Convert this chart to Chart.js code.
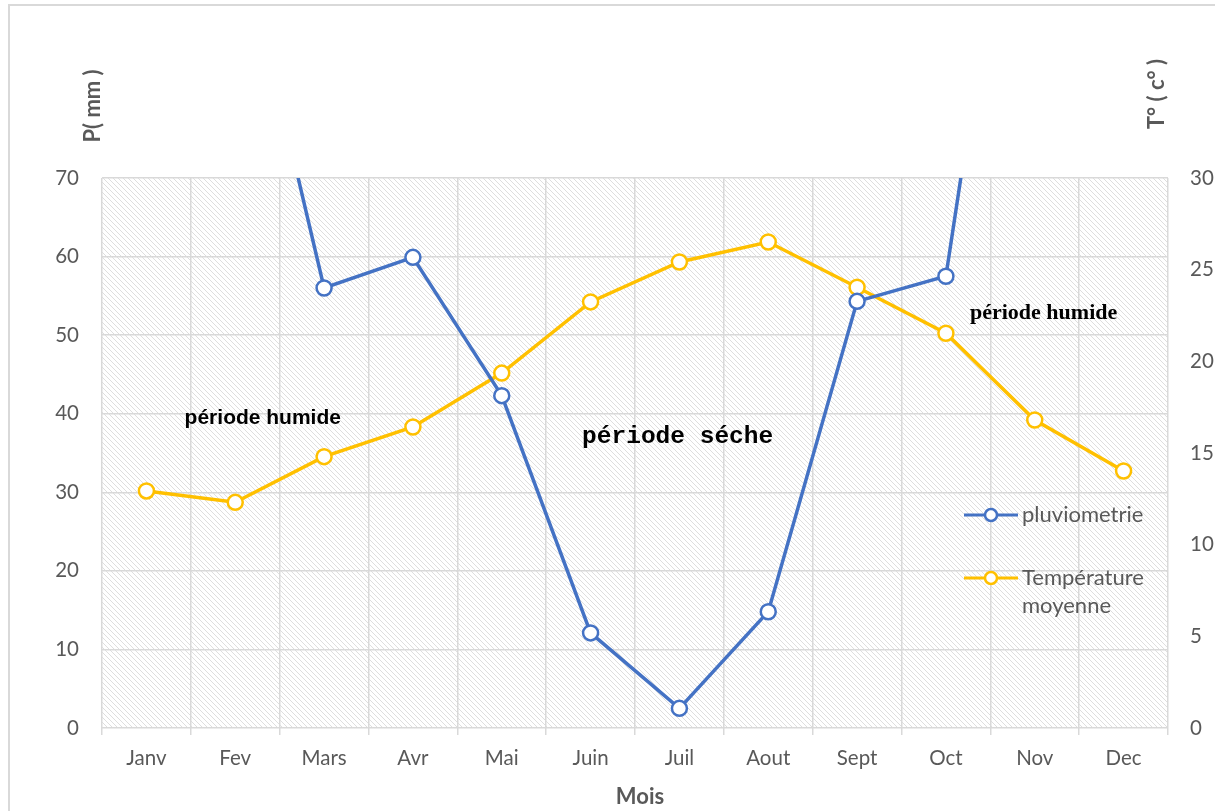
<!DOCTYPE html>
<html>
<head>
<meta charset="utf-8">
<script src="https://cdn.jsdelivr.net/npm/chart.js@4.4.1/dist/chart.umd.min.js"></script>
<style>
  html, body { margin: 0; padding: 0; background: #ffffff; }
  #wrap { width: 1215px; height: 811px; position: relative; }
</style>
</head>
<body>
<div id="wrap"><canvas id="c" width="1215" height="811"></canvas></div>
<script>
// Monthly climate data
const months = ['Janv', 'Fev', 'Mars', 'Avr', 'Mai', 'Juin', 'Juil', 'Aout', 'Sept', 'Oct', 'Nov', 'Dec'];
const pluviometrie = [110, 104, 56.0, 59.9, 42.3, 12.1, 2.5, 14.8, 54.3, 57.5, 132, 120];
const temperature = [12.93, 12.31, 14.8, 16.42, 19.36, 23.24, 25.42, 26.51, 24.04, 21.53, 16.8, 14.02];
const leftTicks = [0, 10, 20, 30, 40, 50, 60, 70];
const rightTicks = [0, 5, 10, 15, 20, 25, 30];

const BLUE = '#4472C4';
const ORANGE = '#FFC000';
const TEXT = '#595959';
const GRID = '#d9d9d9';
const FONT = 'Lato, "Open Sans", sans-serif';

// Diagonal hatch fill for the plot area
function makeHatch() {
  const s = 5;
  const p = document.createElement('canvas');
  p.width = s; p.height = s;
  const g = p.getContext('2d');
  g.fillStyle = '#ffffff';
  g.fillRect(0, 0, s, s);
  g.strokeStyle = '#dedede';
  g.lineWidth = 1;
  g.beginPath();
  g.moveTo(-1, -1); g.lineTo(s + 1, s + 1);
  g.moveTo(-1, s - 1); g.lineTo(1, s + 1);
  g.moveTo(s - 1, -1); g.lineTo(s + 1, 1);
  g.stroke();
  return p;
}

const backdrop = {
  id: 'backdrop',
  beforeDraw(chart) {
    const { ctx, chartArea: a } = chart;
    ctx.save();
    ctx.fillStyle = '#ffffff';
    ctx.fillRect(0, 0, chart.width, chart.height);
    ctx.strokeStyle = GRID;
    ctx.lineWidth = 2;
    ctx.strokeRect(9, 5, 1400, 1400);
    ctx.fillStyle = ctx.createPattern(makeHatch(), 'repeat');
    ctx.fillRect(a.left, a.top, a.right - a.left, a.bottom - a.top);
    ctx.restore();
  }
};

// Axis titles, period labels and the legend drawn on top
const overlay = {
  id: 'overlay',
  afterDraw(chart) {
    const { ctx } = chart;
    const x = chart.scales.x, y = chart.scales.y;
    ctx.save();
    ctx.fillStyle = TEXT;
    ctx.font = 'bold 22px ' + FONT;
    ctx.textAlign = 'center';
    ctx.textBaseline = 'middle';
    ctx.save(); ctx.translate(93, 106); ctx.rotate(-Math.PI / 2); ctx.fillText('P( mm )', 0, 0); ctx.restore();
    ctx.save(); ctx.translate(1157, 94); ctx.rotate(-Math.PI / 2); ctx.fillText('T° ( c° )', 0, 0); ctx.restore();
    ctx.fillText('Mois', 640, 797);

    ctx.fillStyle = '#000000';
    ctx.font = 'bold 21px "Liberation Sans", Arial, sans-serif';
    ctx.fillText('période humide', x.getPixelForValue(1.31), y.getPixelForValue(39.4));
    ctx.font = 'bold 24.5px "Liberation Mono", "Courier New", monospace';
    ctx.fillText('période séche', x.getPixelForValue(5.98), y.getPixelForValue(37.0));
    ctx.font = 'bold 22px "Liberation Serif", "Times New Roman", serif';
    ctx.fillText('période humide', x.getPixelForValue(10.1), y.getPixelForValue(52.8));

    // legend
    const items = [
      { color: BLUE, lines: ['pluviometrie'], y: 515 },
      { color: ORANGE, lines: ['Température', 'moyenne'], y: 578 }
    ];
    ctx.font = '22px ' + FONT;
    ctx.textAlign = 'left';
    items.forEach(it => {
      ctx.strokeStyle = it.color;
      ctx.lineWidth = 3;
      ctx.beginPath(); ctx.moveTo(964, it.y); ctx.lineTo(1018, it.y); ctx.stroke();
      ctx.beginPath(); ctx.arc(991, it.y, 6, 0, Math.PI * 2);
      ctx.fillStyle = '#ffffff'; ctx.fill();
      ctx.lineWidth = 2.5; ctx.stroke();
      ctx.fillStyle = TEXT;
      it.lines.forEach((t, i) => ctx.fillText(t, 1022, it.y + i * 28));
    });
    ctx.restore();
  }
};

new Chart(document.getElementById('c'), {
  type: 'line',
  data: {
    labels: months,
    datasets: [
      {
        label: 'pluviometrie',
        data: pluviometrie,
        yAxisID: 'y',
        borderColor: BLUE,
        borderWidth: 3.5,
        pointRadius: 7.5,
        pointBorderWidth: 2.5,
        pointBackgroundColor: '#ffffff',
        pointBorderColor: BLUE,
        tension: 0
      },
      {
        label: 'Température moyenne',
        data: temperature,
        yAxisID: 'y1',
        borderColor: ORANGE,
        borderWidth: 3.5,
        pointRadius: 7.5,
        pointBorderWidth: 2.5,
        pointBackgroundColor: '#ffffff',
        pointBorderColor: ORANGE,
        tension: 0
      }
    ]
  },
  options: {
    responsive: false,
    animation: false,
    devicePixelRatio: 1,
    layout: { padding: { top: 178, left: 0, right: 0, bottom: 0 } },
    plugins: { legend: { display: false }, tooltip: { enabled: false } },
    scales: {
      x: {
        offset: true,
        grid: { offset: true, color: GRID, lineWidth: 1.5, tickLength: 7, drawTicks: true },
        border: { display: false },
        ticks: { color: TEXT, font: { family: FONT, size: 20.5 }, padding: 11, maxRotation: 0 },
        afterFit(s) { s.height = 83; }
      },
      y: {
        position: 'left',
        min: 0, max: 70,
        afterBuildTicks(s) { s.ticks = leftTicks.map(v => ({ value: v })); },
        grid: { color: GRID, lineWidth: 1.5, drawTicks: false },
        border: { display: false },
        ticks: { color: TEXT, font: { family: FONT, size: 20.5 }, padding: 23 },
        afterFit(s) { s.width = 102; }
      },
      y1: {
        position: 'right',
        min: 0, max: 30,
        afterBuildTicks(s) { s.ticks = rightTicks.map(v => ({ value: v })); },
        grid: { display: false, drawTicks: false },
        border: { display: false },
        ticks: { color: TEXT, font: { family: FONT, size: 20.5 }, padding: 22 },
        afterFit(s) { s.width = 47; }
      }
    }
  },
  plugins: [backdrop, overlay]
});
</script>
</body>
</html>
